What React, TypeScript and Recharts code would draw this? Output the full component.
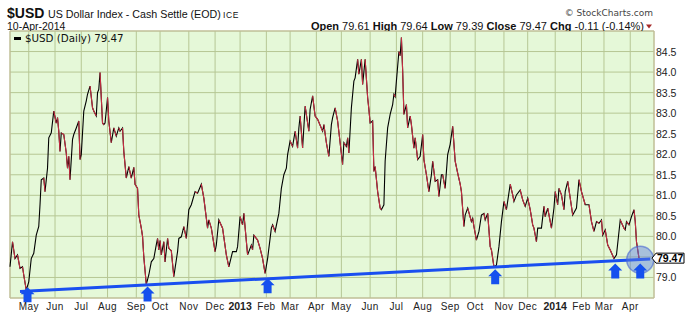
import React from "react";
import {
  ComposedChart,
  Line,
  XAxis,
  YAxis,
  CartesianGrid,
  ReferenceArea,
  ReferenceDot,
} from "recharts";

// x = trading-day index, 0 = 10-Apr-2012, 503 = 10-Apr-2014
const priceDays = [
  0, 2, 4, 6, 8, 10, 11, 13, 15, 17, 19, 21, 23, 24, 25, 27, 28, 30, 31, 33,
  35, 37, 38, 39, 40, 41, 43, 45, 46, 47, 48, 50, 51, 53, 55, 56, 57, 59, 61, 62,
  64, 66, 67, 69, 70, 71, 72, 74, 75, 76, 78, 79, 81, 83, 85, 87, 88, 90, 91, 93,
  95, 97, 99, 100, 102, 103, 105, 106, 107, 109, 111, 113, 115, 117, 118, 119, 120, 121, 123, 124,
  126, 127, 129, 131, 134, 135, 137, 139, 141, 143, 145, 148, 150, 153, 155, 158, 159, 161, 164, 165,
  167, 170, 173, 175, 178, 181, 182, 184, 186, 187, 190, 193, 194, 195, 198, 200, 202, 204, 206, 208,
  209, 210, 212, 215, 217, 219, 221, 222, 224, 226, 228, 230, 231, 232, 234, 236, 239, 240, 242, 244,
  246, 250, 251, 253, 255, 257, 258, 260, 262, 266, 267, 269, 270, 271, 273, 275, 276, 278, 279, 281,
  282, 284, 286, 287, 288, 290, 291, 292, 294, 296, 297, 299, 300, 302, 304, 306, 307, 308, 309, 311,
  312, 313, 314, 315, 317, 318, 320, 321, 323, 324, 326, 328, 330, 331, 333, 335, 337, 338, 340, 342,
  343, 345, 346, 348, 350, 352, 354, 356, 358, 360, 361, 363, 364, 366, 369, 370, 371, 373, 375, 377,
  379, 380, 382, 384, 385, 387, 389, 391, 393, 395, 397, 400, 402, 403, 405, 408, 410, 412, 414, 416,
  418, 419, 421, 422, 425, 427, 428, 430, 433, 435, 436, 438, 439, 441, 443, 444, 446, 448, 450, 453,
  455, 457, 460, 463, 465, 467, 469, 471, 473, 474, 476, 478, 480, 483, 485, 488, 491, 492, 493, 495,
  497, 499, 500, 501, 503,
];

const priceValues = [
  79.26, 79.87, 79.46, 79.55, 79.22, 79.26, 79.06, 78.69, 78.89, 79.46, 79.59, 80.03, 80.24, 80.77, 81.38, 81.42, 81.09, 81.66, 82.4, 82.52,
  83.05, 82.76, 82.89, 82.56, 82.07, 82.52, 82.48, 82.03, 81.66, 81.95, 81.38, 82.36, 82.48, 82.64, 82.81, 81.87, 81.99, 83.05, 83.3, 83.46,
  83.66, 83.13, 83.05, 82.93, 83.5, 83.58, 83.99, 82.76, 82.72, 82.76, 83.38, 82.81, 82.28, 82.64, 82.44, 82.64, 82.56, 82.64, 82.07, 81.42,
  81.7, 81.42, 81.68, 81.27, 81.17, 80.52, 80.2, 80.0, 79.5, 78.83, 79.06, 79.38, 79.46, 79.8, 79.95, 79.67, 79.9, 79.55, 79.87, 79.38,
  79.95, 79.71, 79.65, 79.02, 79.63, 79.95, 79.99, 80.24, 79.95, 80.65, 80.77, 81.09, 81.05, 81.27, 80.93, 80.2, 80.4, 80.2, 79.63, 79.79,
  80.4, 80.2, 79.55, 79.26, 79.63, 79.63, 79.75, 80.48, 80.28, 80.56, 79.55, 79.79, 79.67, 80.03, 79.91, 79.71, 79.46, 79.1, 79.46, 79.95,
  80.2, 80.28, 80.12, 80.56, 81.17, 81.5, 81.66, 81.99, 82.32, 82.19, 82.56, 82.15, 82.64, 82.93, 82.15, 83.17, 82.56, 83.09, 83.42, 82.93,
  82.85, 82.56, 82.72, 82.28, 81.95, 82.72, 82.89, 83.13, 82.81, 81.75, 82.28, 82.19, 82.4, 82.03, 83.13, 83.78, 83.86, 84.31, 83.95, 84.31,
  83.7, 84.31, 83.38, 83.09, 82.76, 82.81, 81.58, 81.7, 81.09, 80.69, 80.65, 80.77, 81.83, 82.64, 82.97, 83.21, 83.46, 83.4, 83.78, 84.5,
  84.4, 84.84, 84.03, 82.97, 83.21, 82.64, 82.93, 82.72, 82.15, 82.4, 81.87, 81.95, 82.48, 81.87, 81.5, 81.09, 81.5, 81.83, 81.34, 81.38,
  80.97, 81.5, 81.5, 81.17, 81.99, 82.24, 82.68, 81.83, 81.54, 81.27, 81.09, 80.24, 80.52, 80.69, 80.36, 80.44, 80.24, 79.91, 80.12, 80.52,
  80.56, 80.4, 80.56, 79.75, 79.67, 79.26, 79.3, 79.75, 80.36, 80.85, 80.65, 81.27, 81.01, 80.85, 81.01, 81.13, 80.89, 80.73, 80.93, 80.65,
  80.28, 80.2, 79.87, 80.2, 80.2, 80.73, 80.48, 80.69, 80.2, 80.69, 81.09, 80.77, 81.17, 81.01, 80.65, 81.09, 81.34, 80.93, 80.52, 80.69,
  81.38, 81.09, 80.77, 80.77, 80.36, 80.12, 80.36, 80.32, 80.4, 80.03, 80.16, 79.79, 79.67, 79.46, 79.55, 80.4, 80.2, 80.16, 80.36, 80.28,
  80.48, 80.65, 80.36, 79.87, 79.47,
];

const trendDays = [8, 512];
const trendValues = [78.66, 79.45];

const monthDays = [15, 36, 57, 78, 101, 120, 143, 164, 184, 205, 224, 245, 265, 288, 309, 330, 352, 372, 395, 414, 436, 457, 475, 496];
const monthLabels = ["May", "Jun", "Jul", "Aug", "Sep", "Oct", "Nov", "Dec", "2013", "Feb", "Mar", "Apr", "May", "Jun", "Jul", "Aug", "Sep", "Oct", "Nov", "Dec", "2014", "Feb", "Mar", "Apr"];
const yTicks = [79, 79.5, 80, 80.5, 81, 81.5, 82, 82.5, 83, 83.5, 84, 84.5];

const arrowDays = [14, 110, 206, 388, 484, 504];
const arrowValues = [78.76, 78.78, 78.98, 79.2, 79.34, 79.34];

const lastClose = 79.47;
const quoteLabels = ["Open", "High", "Low", "Close", "Chg"];
const quoteValues = ["79.61", "79.64", "79.39", "79.47", "-0.11 (-0.14%)"];

const RED = "#c62d42";
const BLUE = "#1a4ff0";
const FONT = "'Liberation Sans', Arial, sans-serif";

type Row = { day: number; usd: number; downA: number | null; downB: number | null };

// black line for the whole series, red overlay for falling runs
// (alternating two keys so neighbouring runs never join up)
const rows: Row[] = priceDays.map((d, i) => ({ day: d, usd: priceValues[i], downA: null, downB: null }));
let run = -1;
let prevDown = false;
for (let i = 1; i < rows.length; i++) {
  const down = priceValues[i] < priceValues[i - 1];
  if (down) {
    if (!prevDown) run++;
    const key = run % 2 === 0 ? "downA" : "downB";
    rows[i - 1][key] = priceValues[i - 1];
    rows[i][key] = priceValues[i];
  }
  prevDown = down;
}

const trendRows = trendDays.map((d, i) => ({ day: d, trend: trendValues[i] }));

const MonthTick = (props: any) => {
  const { x, y, payload } = props;
  const idx = monthDays.indexOf(payload.value);
  const label = monthLabels[idx] ?? "";
  const isYear = /^\d{4}$/.test(label);
  return (
    <text
      x={x}
      y={y + 11.5}
      textAnchor="middle"
      fontFamily={FONT}
      fontSize={isYear ? 10.5 : 10}
      fontWeight={isYear ? "bold" : "normal"}
      letterSpacing={isYear ? 0 : 0.4}
      fill="#222"
    >
      {label}
    </text>
  );
};

const PriceTick = (props: any) => {
  const { x, y, payload } = props;
  if (payload.value === 79.5) return <g />;
  return (
    <text x={x} y={y + 4} fontFamily={FONT} fontSize={10.5} fill="#222">
      {Number(payload.value).toFixed(1)}
    </text>
  );
};

const UpArrow = (props: any) => {
  const { cx, cy } = props;
  const pts = [
    [cx, cy],
    [cx + 7, cy + 7],
    [cx + 4, cy + 7],
    [cx + 4, cy + 15],
    [cx - 4, cy + 15],
    [cx - 4, cy + 7],
    [cx - 7, cy + 7],
  ]
    .map((p) => p.join(","))
    .join(" ");
  return <polygon points={pts} fill="#1550ee" />;
};

const CloseTag = (props: any) => {
  const { cx, cy } = props;
  const pts = [
    [cx - 2, cy],
    [cx + 2, cy - 5],
    [cx + 30, cy - 5],
    [cx + 30, cy + 5],
    [cx + 2, cy + 5],
  ]
    .map((p) => p.join(","))
    .join(" ");
  return (
    <g>
      <polygon points={pts} fill="#fff" stroke="#000" strokeWidth={1} />
      <text x={cx + 3} y={cy + 4} fontFamily={FONT} fontSize={10.5} fontWeight="bold" fill="#000">
        {lastClose.toFixed(2)}
      </text>
    </g>
  );
};

export default function App() {
  return (
    <div style={{ position: "relative", width: 692, height: 319, background: "#fff", overflow: "hidden" }}>
      <style>{"body{margin:0}"}</style>
      <ComposedChart width={692} height={319} data={rows} margin={{ top: 31, right: 0, bottom: 0, left: 10 }}>
        <CartesianGrid fill="#e5f8d8" stroke="#b6c794" strokeWidth={1} strokeOpacity={1} />
        <ReferenceArea x1={0} x2={515} y1={78.5} y2={85} fill="none" stroke="#c4ba98" strokeWidth={1} />
        <XAxis
          type="number"
          dataKey="day"
          domain={[0, 515]}
          ticks={monthDays}
          interval={0}
          height={21}
          axisLine={false}
          tickLine={false}
          tickSize={0}
          tickMargin={0}
          tick={<MonthTick />}
        />
        <YAxis
          orientation="right"
          domain={[78.5, 85]}
          ticks={yTicks}
          interval={0}
          width={38}
          axisLine={false}
          tickLine={false}
          tickSize={0}
          tickMargin={2}
          tick={<PriceTick />}
        />
        <Line dataKey="usd" stroke="#000" strokeWidth={1.1} dot={false} activeDot={false} isAnimationActive={false} />
        <Line dataKey="downA" stroke={RED} strokeWidth={1.1} dot={false} activeDot={false} isAnimationActive={false} />
        <Line dataKey="downB" stroke={RED} strokeWidth={1.1} dot={false} activeDot={false} isAnimationActive={false} />
        <Line data={trendRows} dataKey="trend" stroke={BLUE} strokeWidth={3} dot={false} activeDot={false} isAnimationActive={false} />
        <ReferenceDot x={504} y={79.43} r={13.5} fill="rgba(90,125,225,0.45)" stroke="rgba(70,100,210,0.6)" strokeWidth={1.5} ifOverflow="visible" />
        {arrowDays.map((d, i) => (
          <ReferenceDot key={d} x={d} y={arrowValues[i]} shape={<UpArrow />} ifOverflow="visible" />
        ))}
        <ReferenceDot x={515} y={lastClose} shape={<CloseTag />} ifOverflow="visible" />
      </ComposedChart>

      {/* legend box in the top-left corner of the plot */}
      <div
        style={{
          position: "absolute",
          left: 14,
          top: 32,
          display: "flex",
          alignItems: "center",
          fontFamily: "'DejaVu Sans', Verdana, sans-serif",
          fontSize: 10.3,
          lineHeight: "13px",
          color: "#111",
          whiteSpace: "nowrap",
        }}
      >
        <span style={{ display: "inline-block", width: 7, height: 3, background: "#000", marginRight: 4 }} />
        $USD (Daily) {lastClose.toFixed(2)}
      </div>

      <svg width={692} height={31} style={{ position: "absolute", left: 0, top: 0, pointerEvents: "none" }}>
        <text x={7} y={18} fontFamily={FONT} fontSize={14} fontWeight="bold" fill="#111">$USD</text>
        <text x={48} y={17.5} fontFamily={FONT} fontSize={10.7} fill="#111">US Dollar Index - Cash Settle (EOD)</text>
        <text x={223} y={17.5} fontFamily={FONT} fontSize={8.5} letterSpacing={0.6} fill="#111">ICE</text>
        <text x={7} y={29.5} fontFamily={FONT} fontSize={10.5} fill="#111">10-Apr-2014</text>
        <text x={653} y={16.3} textAnchor="end" fontFamily="'DejaVu Sans', Verdana, sans-serif" fontSize={9} fill="#444">© StockCharts.com</text>
        <text x={644} y={29.5} textAnchor="end" fontFamily={FONT} fontSize={11} fill="#111">
          {quoteLabels.map((lab, i) => (
            <React.Fragment key={lab}>
              <tspan fontWeight="bold">{(i > 0 ? " " : "") + lab}</tspan>
              <tspan>{" " + quoteValues[i]}</tspan>
            </React.Fragment>
          ))}
        </text>
        <polygon points="646,24.5 652,24.5 649,28.5" fill="#a52a2a" />
      </svg>
    </div>
  );
}
